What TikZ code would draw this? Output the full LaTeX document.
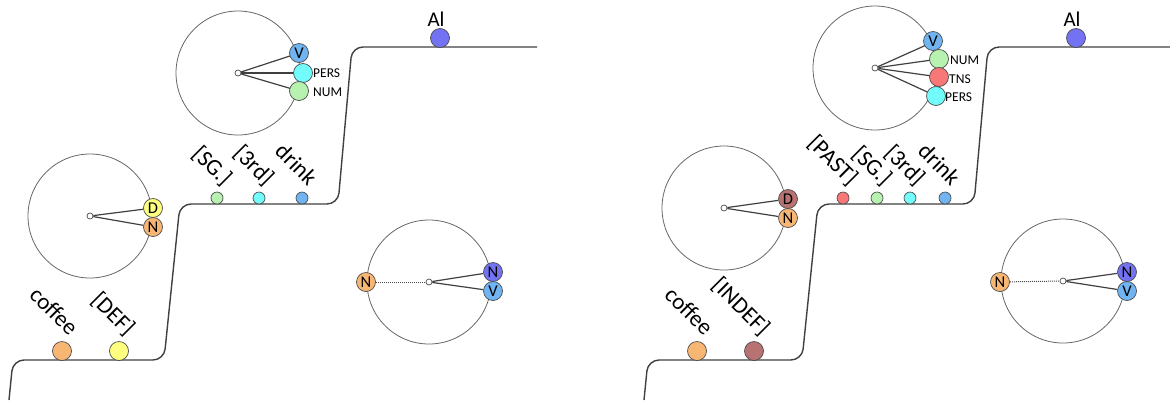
\documentclass[tikz,border=0pt]{standalone}
\usepackage{fontspec}
\setmainfont{Carlito}
\definecolor{corange}{HTML}{F8B674}
\definecolor{cyellow}{HTML}{FFFF80}
\definecolor{cgreen}{HTML}{B8F2B0}
\definecolor{ccyan}{HTML}{72FCFC}
\definecolor{cblue}{HTML}{70B4F2}
\definecolor{cpurple}{HTML}{7272F2}
\definecolor{cred}{HTML}{F87878}
\definecolor{cbrown}{HTML}{B87272}
\tikzset{
  ring/.style={circle, draw=black!60, line width=0.8pt, minimum size=124pt, inner sep=0pt},
  hub/.style={circle, draw=black!70, fill=white, minimum size=6pt, inner sep=0pt, line width=0.7pt},
  ball/.style={circle, draw=black!70, line width=0.7pt, minimum size=19pt, inner sep=0pt, font=\fontsize{16.5}{16.5}\selectfont},
  sball/.style={circle, draw=black!70, line width=0.7pt, minimum size=12pt, inner sep=0pt},
  spoke/.style={draw=black!75, line width=1.2pt},
  tie/.style={draw=black!70, line width=1pt, densely dotted},
  word/.style={font=\fontsize{23}{23}\selectfont, rotate=-45, anchor=base east, inner sep=0pt},
  feat/.style={font=\fontsize{13.5}{13.5}\selectfont, anchor=west, inner sep=1pt},
  top/.style={font=\fontsize{21}{21}\selectfont, anchor=south, inner sep=1pt},
  track/.style={draw=black!75, line width=1.4pt, rounded corners=11pt},
}
\begin{document}
\begin{tikzpicture}[x=1pt, y=-1pt]
\useasboundingbox (0,0) rectangle (1170,400);

% ================= LEFT PANEL =================
\draw[track] (9,400) -- (13,360) -- (164,360) -- (180,204) -- (338,204) -- (352,47) -- (537,47);

% words on the track
\node[ball, fill=corange] (lcoffee) at (62,351) {};
\node[word] (lcoffeeT) at (69,337) {coffee};
\node[ball, fill=cyellow] (ldef) at (119,351) {};
\node[word] (ldefT) at (126,337) {[DEF]};
\node[sball, fill=cgreen] (lsg) at (217,198) {};
\node[word] (lsgT) at (223,187) {[SG.]};
\node[sball, fill=ccyan] (l3rd) at (259,198) {};
\node[word] (l3rdT) at (265,187) {[3rd]};
\node[sball, fill=cblue] (ldrink) at (302,198) {};
\node[word] (ldrinkT) at (308,187) {drink};
\node[ball, fill=cpurple] (lal) at (440,38) {};
\node[top] (lalT) at (436,28) {Al};

% ring A: D N
\node[ring] (lringA) at (90,216) {};
\node[hub] (lhubA) at (90,216) {};
\node[ball, fill=cyellow] (lD) at (153,208) {D};
\node[ball, fill=corange] (lN) at (153,227) {N};
\draw[spoke] (lhubA) -- (lD);
\draw[spoke] (lhubA) -- (lN);

% ring B: V PERS NUM
\node[ring] (lringB) at (238,73) {};
\node[hub] (lhubB) at (238,73) {};
\draw[spoke] (lhubB) -- (299,53);
\draw[spoke] (lhubB) -- (303,73);
\draw[spoke] (lhubB) -- (299,91);
\node[ball, fill=cblue] (lV) at (299,53) {V};
\node[ball, fill=ccyan] (lPERS) at (303,73) {};
\node[ball, fill=cgreen] (lNUM) at (299,91) {};
\node[feat] (lPERST) at (312,73) {PERS};
\node[feat] (lNUMT) at (312,92) {NUM};

% ring C: N ... N V
\node[ring] (lringC) at (429,282) {};
\node[hub] (lhubC) at (429,282) {};
\node[ball, fill=corange] (lNo) at (366,282) {N};
\node[ball, fill=cpurple] (lNp) at (493,272) {N};
\node[ball, fill=cblue] (lVc) at (493,291) {V};
\draw[tie] (lNo) -- (lhubC);
\draw[spoke] (lhubC) -- (lNp);
\draw[spoke] (lhubC) -- (lVc);

% ================= RIGHT PANEL =================
\draw[track] (644,400) -- (648,360) -- (802,360) -- (818,204) -- (974,204) -- (988,47) -- (1172,47);

\node[ball, fill=corange] (rcoffee) at (697,351) {};
\node[word] (rcoffeeT) at (704,337) {coffee};
\node[ball, fill=cbrown] (rindef) at (754,351) {};
\node[word] (rindefT) at (761,337) {[INDEF]};
\node[sball, fill=cred] (rpast) at (843,198) {};
\node[word] (rpastT) at (849,187) {[PAST]};
\node[sball, fill=cgreen] (rsg) at (877,198) {};
\node[word] (rsgT) at (883,187) {[SG.]};
\node[sball, fill=ccyan] (r3rd) at (910,198) {};
\node[word] (r3rdT) at (916,187) {[3rd]};
\node[sball, fill=cblue] (rdrink) at (945,198) {};
\node[word] (rdrinkT) at (951,187) {drink};
\node[ball, fill=cpurple] (ral) at (1076,38) {};
\node[top] (ralT) at (1072,28) {Al};

% ring A': D N
\node[ring] (rringA) at (724,208) {};
\node[hub] (rhubA) at (724,208) {};
\node[ball, fill=cbrown] (rD) at (788,199) {D};
\node[ball, fill=corange] (rN) at (788,218) {N};
\draw[spoke] (rhubA) -- (rD);
\draw[spoke] (rhubA) -- (rN);

% ring B': V NUM TNS PERS
\node[ring] (rringB) at (875,68) {};
\node[hub] (rhubB) at (875,68) {};
\draw[spoke] (rhubB) -- (933,42);
\draw[spoke] (rhubB) -- (939,59);
\draw[spoke] (rhubB) -- (939,77);
\draw[spoke] (rhubB) -- (936,96);
\node[ball, fill=cblue] (rV) at (933,41) {V};
\node[ball, fill=cgreen] (rNUM) at (939,59) {};
\node[ball, fill=cred] (rTNS) at (939,77) {};
\node[ball, fill=ccyan] (rPERS) at (936,96) {};
\node[feat] (rNUMT) at (949,60) {NUM};
\node[feat] (rTNST) at (948,79) {TNS};
\node[feat] (rPERST) at (944,97) {PERS};

% ring C': N ... N V
\node[ring] (rringC) at (1063,281) {};
\node[hub] (rhubC) at (1063,281) {};
\node[ball, fill=corange] (rNo) at (1000,282) {N};
\node[ball, fill=cpurple] (rNp) at (1127,272) {N};
\node[ball, fill=cblue] (rVc) at (1127,291) {V};
\draw[tie] (rNo) -- (rhubC);
\draw[spoke] (rhubC) -- (rNp);
\draw[spoke] (rhubC) -- (rVc);
\end{tikzpicture}
\end{document}
